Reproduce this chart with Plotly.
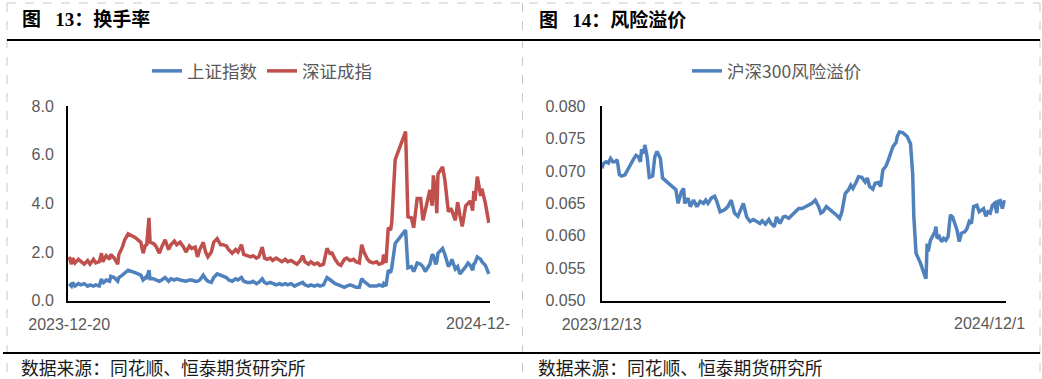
import pandas as pd
import plotly.graph_objects as go

# ---------------- data: chart 13 (turnover) ----------------
start1 = "2023-12-20"
days1 = [0,2,3,5,8,10,13,16,18,21,23,26,28,29,32,35,36,39,42,43,46,48,51,57,62,64,66,67,69,70,
         73,75,78,80,83,86,88,91,93,96,99,101,104,106,109,111,113,116,118,120,123,125,128,131,133,136,138,141,144,146,
         149,151,154,157,159,162,164,167,169,171,174,176,179,182,184,187,189,192,195,197,200,202,204,207,209,212,215,217,220,223,
         226,227,230,233,235,238,240,243,246,248,251,253,255,258,260,263,266,268,271,272,274,276,278,279,282,291,293,296,298,299,
         301,304,306,308,310,312,314,315,317,318,319,323,325,328,330,331,334,336,338,340,343,345,347,349,350,351,353,356,357,360,
         362,363]
sz_turnover = [1.8,1.5,1.75,1.55,1.7,1.6,1.5,1.65,1.5,1.7, 1.55,1.6,1.95,1.6,1.85,1.7,1.9,1.75,1.5,1.9,
               2.2,2.5,2.75,2.6,2.4,1.95,2.3,2.25,3.4,2.4, 2.35,2.25,1.95,2.2,2.5,2.1,2.3,2.45,2.3,2.4,
               2.2,2.0,2.25,2.15,2.2,1.8,2.1,2.4,2.0,1.8, 2.0,2.4,2.55,2.3,2.3,2.25,2.1,1.95,2.1,2.0,
               2.3,1.9,1.85,1.8,1.85,1.75,1.8,2.2,1.75,1.7, 1.75,1.65,1.75,1.65,1.6,1.7,1.6,1.65,1.55,1.5,
               1.65,1.85,1.6,1.5,1.6,1.5,1.55,1.45,1.5,2.15, 1.9,2.0,1.7,1.5,1.45,1.7,1.75,1.65,1.7,1.6,
               1.55,2.3,2.0,1.7,1.6,1.55,1.6,1.5,1.55,1.9, 1.55,3.0,2.9,3.2,5.8,6.95,3.45,3.4,3.0,3.5,
               4.2,4.2,3.3,3.7,4.1,4.55,3.9,5.15,4.4,3.6, 5.2,5.5,4.95,3.65,3.8,3.7,3.3,4.05,3.5,3.05,
               3.9,4.0,4.1,3.7,4.5,4.1,5.1,4.3,4.6,4.0, 3.3,3.2]
sh_turnover = [0.7,0.6,0.75,0.6,0.7,0.65,0.7,0.6,0.65,0.6, 0.65,0.6,0.9,0.7,0.85,0.8,1.0,0.95,0.8,0.95,
               1.05,1.15,1.25,1.15,1.05,0.85,0.95,0.9,1.25,0.9, 0.9,0.85,0.8,0.85,0.95,0.8,0.9,0.85,0.9,0.85,
               0.8,0.8,0.85,0.85,0.8,0.8,0.85,1.05,0.9,0.8, 0.75,0.95,1.1,1.05,1.0,0.95,0.85,0.8,0.9,0.85,
               0.95,0.8,0.75,0.75,0.8,0.7,0.75,0.9,0.75,0.7, 0.75,0.7,0.65,0.7,0.65,0.7,0.65,0.7,0.6,0.65,
               0.7,0.75,0.65,0.6,0.65,0.6,0.65,0.6,0.65,0.95, 0.85,0.8,0.7,0.65,0.6,0.55,0.6,0.65,0.6,0.55,
               0.55,0.9,0.8,0.65,0.6,0.6,0.6,0.65,0.6,0.7, 0.6,1.25,1.15,1.35,2.35,2.9,1.35,1.4,1.2,1.3,
               1.55,1.5,1.4,1.2,1.35,1.5,1.9,1.85,1.5,1.6, 1.95,2.15,1.9,1.4,1.55,1.7,1.3,1.4,1.1,1.2,
               1.4,1.55,1.45,1.25,1.5,1.55,1.8,1.7,1.6,1.45, 1.2,1.1]
names1 = ["上证指数", "深证成指"]
xlabels1 = ["2023-12-20", "2024-12-"]
yticks1 = [0, 2, 4, 6, 8]

# ---------------- data: chart 14 (risk premium) ----------------
start2 = "2023-12-13"
days2 = [0,2,4,6,8,10,12,14,16,18, 21,23,26,29,31,33,35,36,38,39,
         41,43,46,48,50,53,55,59,63,67, 69,72,74,75,78,80,83,86,89,92,
         94,96,99,102,104,107,111,114,117,120, 123,125,128,131,134,137,140,143,145,148,
         151,153,156,158,161,164,166,169,172,175, 178,181,184,187,190,193,196,198,200,203,
         206,209,212,215,217,220,223,225,227,230, 232,235,238,240,242,245,247,250,252,254,
         257,259,261,263,266,267,269,272,276,279, 281,282,284,288,291,293,294,295,297,299,
         301,302,303,305,307,309,311,313,315,317, 319,321,323,325,328,330,332,334,336,339,
         341,343,345,347,349,351,353,355,357,358, 360,362,364]
risk_premium = [0.0704,0.0712,0.0714,0.0712,0.0719,0.0714,0.0714,0.0717,0.0694,0.0692,
                0.0694,0.0701,0.0709,0.0719,0.0724,0.0722,0.0714,0.0733,0.0727,0.0740,
                0.0722,0.0690,0.0692,0.0722,0.0730,0.0719,0.0689,0.0683,0.0676,0.0671,
                0.0650,0.0668,0.0673,0.0650,0.0658,0.0645,0.0655,0.0645,0.0653,0.0650,
                0.0655,0.0650,0.0658,0.0661,0.0653,0.0637,0.0640,0.0645,0.0655,0.0635,
                0.0630,0.0637,0.0650,0.0629,0.0622,0.0625,0.0622,0.0619,0.0623,0.0618,
                0.0625,0.0619,0.0614,0.0629,0.0619,0.0629,0.0630,0.0627,0.0632,0.0637,
                0.0642,0.0642,0.0645,0.0647,0.0650,0.0655,0.0645,0.0635,0.0637,0.0645,
                0.0641,0.0637,0.0632,0.0627,0.0637,0.0665,0.0671,0.0678,0.0673,0.0683,
                0.0691,0.0690,0.0683,0.0689,0.0676,0.0672,0.0681,0.0682,0.0676,0.0701,
                0.0708,0.0717,0.0728,0.0737,0.0744,0.0753,0.0760,0.0759,0.0753,0.0742,
                0.0694,0.0629,0.0573,0.0558,0.0543,0.0534,0.0588,0.0576,0.0593,0.0599,
                0.0606,0.0614,0.0596,0.0599,0.0591,0.0596,0.0593,0.0599,0.0632,0.0629,
                0.0617,0.0609,0.0591,0.0604,0.0606,0.0611,0.0622,0.0619,0.0645,0.0647,
                0.0637,0.0640,0.0642,0.0630,0.0637,0.0635,0.0647,0.0650,0.0635,0.0653,
                0.0654,0.0642,0.0655]
name2 = "沪深300风险溢价"
xlabels2 = ["2023/12/13", "2024/12/1"]
yticks2 = [0.050, 0.055, 0.060, 0.065, 0.070, 0.075, 0.080]

titles = ["图 13：换手率", "图 14：风险溢价"]
source = "数据来源：同花顺、恒泰期货研究所"

# ---------------- build ----------------
dates1 = pd.Timestamp(start1) + pd.to_timedelta(days1, unit="D")
dates2 = pd.Timestamp(start2) + pd.to_timedelta(days2, unit="D")

BLUE = "#4F81BD"
RED = "#C0504D"
W, H = 1042, 379
NB = "\u00a0"
LW = 3.5

fig = go.Figure()
fig.add_trace(go.Scatter(x=dates1, y=sh_turnover, name=names1[0], mode="lines",
                         line=dict(color=BLUE, width=LW), xaxis="x", yaxis="y", legend="legend"))
fig.add_trace(go.Scatter(x=dates1, y=sz_turnover, name=names1[1], mode="lines",
                         line=dict(color=RED, width=LW), xaxis="x", yaxis="y", legend="legend"))
fig.add_trace(go.Scatter(x=dates2, y=risk_premium, name=name2, mode="lines",
                         line=dict(color=BLUE, width=LW), xaxis="x2", yaxis="y2", legend="legend2"))

tickfont = dict(family="Arial, Liberation Sans", size=16, color="#595959")
legfont = dict(family="Noto Sans CJK SC", size=17.5, color="#595959")

def px(x):
    return x / W

def py(y):
    return 1 - y / H

ydom = [py(300.7), py(106)]
common_x = dict(type="date", showgrid=False, zeroline=False, showline=True, linecolor="black",
                linewidth=2, ticks="", tickfont=tickfont, ticklabelstandoff=8, fixedrange=True,
                automargin=False, ticklabeloverflow="allow")
common_y = dict(showgrid=False, zeroline=False, showline=True, linecolor="black",
                linewidth=2, ticks="", tickfont=tickfont, fixedrange=True, automargin=False)

fig.update_layout(
    width=W, height=H, autosize=False,
    margin=dict(l=0, r=0, t=0, b=0, pad=0, autoexpand=False),
    paper_bgcolor="white", plot_bgcolor="white",
    xaxis=dict(common_x, domain=[px(68), px(490)], anchor="y",
               range=[pd.Timestamp(start1) - pd.Timedelta(days=1), pd.Timestamp(start1) + pd.Timedelta(days=364)],
               tickvals=[dates1[0]], ticktext=[xlabels1[0]]),
    yaxis=dict(common_y, domain=ydom, anchor="x", range=[0, 8], tickvals=yticks1,
               tickformat=".1f", ticklabelstandoff=9),
    xaxis2=dict(common_x, domain=[px(601.7), px(1005.7)], anchor="y2",
                range=[pd.Timestamp(start2), pd.Timestamp(start2) + pd.Timedelta(days=365)],
                tickvals=[dates2[0]], ticktext=[xlabels2[0]]),
    yaxis2=dict(common_y, domain=ydom, anchor="x2", range=[0.05, 0.08], tickvals=yticks2,
                tickformat=".3f", ticklabelstandoff=11),
    legend=dict(orientation="h", x=px(262), y=py(71), xanchor="center", yanchor="middle",
                font=legfont, bgcolor="rgba(0,0,0,0)", itemwidth=30),
    legend2=dict(orientation="h", x=px(777), y=py(71), xanchor="center", yanchor="middle",
                 font=legfont, bgcolor="rgba(0,0,0,0)", itemwidth=30),
    showlegend=True,
)

# frame: dashed gray guides and black rules
dash = dict(color="#c8c8c8", width=1, dash="dash")
shapes = [
    dict(type="line", xref="paper", yref="paper", x0=px(7), x1=px(7), y0=py(3), y1=0, line=dash),
    dict(type="line", xref="paper", yref="paper", x0=px(522.5), x1=px(522.5), y0=py(3), y1=0, line=dash),
    dict(type="line", xref="paper", yref="paper", x0=px(1040), x1=px(1040), y0=py(3), y1=0, line=dash),
    dict(type="line", xref="paper", yref="paper", x0=px(7), x1=px(1040), y0=py(3), y1=py(3), line=dash),
    dict(type="line", xref="paper", yref="paper", x0=px(7), x1=px(1040), y0=py(40), y1=py(40),
         line=dict(color="black", width=2)),
    dict(type="line", xref="paper", yref="paper", x0=px(3), x1=px(1040), y0=py(353), y1=py(353),
         line=dict(color="black", width=2)),
]
fig.update_layout(shapes=shapes)

title_font = dict(family="Liberation Serif, Noto Sans CJK SC", size=19, color="black")
ann = []
for t, x0 in zip(titles, [20, 537]):
    ann.append(dict(text="<b>" + t.replace(" ", NB * 3) + "</b>", xref="paper", yref="paper",
                    x=px(x0), y=py(20), xanchor="left", yanchor="middle", showarrow=False, font=title_font))
for x0 in [19, 536]:
    ann.append(dict(text=source, xref="paper", yref="paper", x=px(x0), y=py(367),
                    xanchor="left", yanchor="middle", showarrow=False,
                    font=dict(family="Noto Sans CJK SC", size=17.8, color="#1a1a1a")))
# end-date axis labels (shown cut short, as in the source chart)
ann.append(dict(text=xlabels1[1], xref="x", yref="paper", x=dates1[-1], y=py(323),
                xanchor="right", yanchor="middle", xshift=23, showarrow=False, font=tickfont))
ann.append(dict(text=xlabels2[1], xref="x2", yref="paper", x=dates2[-1], y=py(323),
                xanchor="right", yanchor="middle", xshift=22, showarrow=False, font=tickfont))
fig.update_layout(annotations=ann)

fig.write_html("out.html", config={"displayModeBar": False},
               post_script="document.body.style.margin='0';document.body.style.overflow='hidden';")
